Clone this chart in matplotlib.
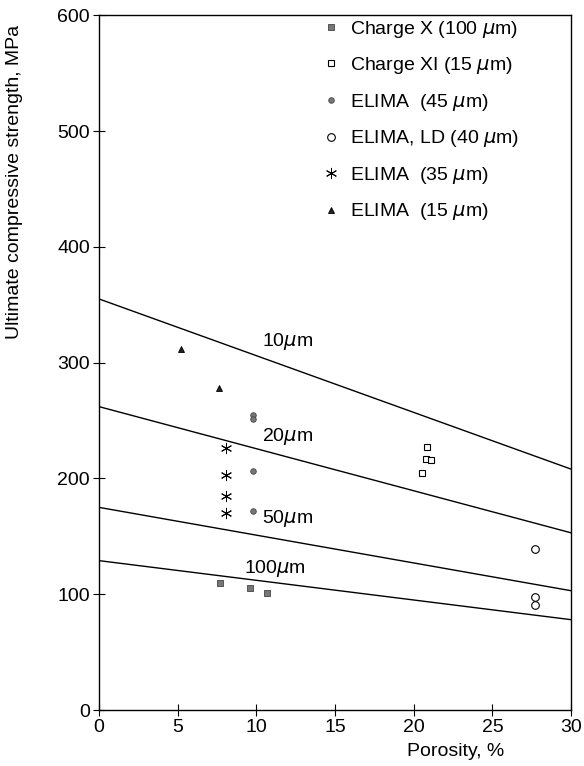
import matplotlib.pyplot as plt
import numpy as np

plt.rcParams["font.family"] = ["Liberation Sans", "DejaVu Sans"]
plt.rcParams["mathtext.fontset"] = "dejavusans"

# model lines (porosity 0 -> 30 %)
line_x = [0, 30]
line_10um = [355, 208]
line_20um = [262, 153]
line_50um = [175, 103]
line_100um = [129, 78]

# measured points
chx_x = [7.7, 9.6, 10.7]
chx_y = [110, 105, 101]
chxi_x = [20.5, 20.8, 20.85, 21.1]
chxi_y = [205, 217, 227, 216]
e45_x = [9.8, 9.8, 9.8, 9.8]
e45_y = [255, 251, 206, 172]
eld_x = [27.7, 27.7, 27.7]
eld_y = [139, 98, 90.5]
e35_x = [8.1, 8.1, 8.1, 8.1]
e35_y = [226, 203, 185, 170]
e15_x = [5.2, 7.6]
e15_y = [312, 278]

FS = 14

fig = plt.figure(figsize=(5.84, 7.66), dpi=100)
ax = fig.add_axes([0.1695, 0.0731, 0.8085, 0.907])

for ys in (line_10um, line_20um, line_50um, line_100um):
    ax.plot(line_x, ys, color="black", lw=1.0)

ax.plot(chx_x, chx_y, ls="none", marker="s", ms=4, mfc="#777777", mec="#444444", mew=0.6,
        label="Charge X (100 $\\mu$m)")
ax.plot(chxi_x, chxi_y, ls="none", marker="s", ms=5, mfc="white", mec="black", mew=0.8,
        label="Charge XI (15 $\\mu$m)")
ax.plot(e45_x, e45_y, ls="none", marker="o", ms=4, mfc="#777777", mec="#444444", mew=0.6,
        label="ELIMA  (45 $\\mu$m)")
ax.plot(eld_x, eld_y, ls="none", marker="o", ms=5.5, mfc="white", mec="black", mew=0.8,
        label="ELIMA, LD (40 $\\mu$m)")
ax.plot(e35_x, e35_y, ls="none", marker=(6, 2, 0), ms=8, mec="black", mew=0.7,
        label="ELIMA  (35 $\\mu$m)")
ax.plot(e15_x, e15_y, ls="none", marker="^", ms=5, mfc="#222222", mec="black", mew=0.6,
        label="ELIMA  (15 $\\mu$m)")

ax.text(11.95, 318, "10$\\mu$m", fontsize=FS, ha="center", va="center")
ax.text(11.95, 236, "20$\\mu$m", fontsize=FS, ha="center", va="center")
ax.text(11.95, 165, "50$\\mu$m", fontsize=FS, ha="center", va="center")
ax.text(11.2, 122, "100$\\mu$m", fontsize=FS, ha="center", va="center")

ax.set_xlim(0, 30)
ax.set_ylim(0, 600)
ax.set_xticks(np.arange(0, 31, 5))
ax.set_yticks(np.arange(0, 601, 100))
ax.tick_params(direction="inout", length=9, width=0.8, labelsize=FS, pad=2)
for s in ax.spines.values():
    s.set_linewidth(1.0)

ax.set_xlabel("Porosity, %", fontsize=FS)
ax.xaxis.set_label_coords(0.756, -0.047)
ax.set_ylabel("Ultimate compressive strength, MPa", fontsize=FS)
ax.yaxis.set_label_coords(-0.16, 0.76)

ax.legend(loc="upper left", bbox_to_anchor=(0.47, 0.995), frameon=False, fontsize=FS,
          handlelength=1.0, handletextpad=0.48, labelspacing=0.8, borderaxespad=0, borderpad=0)

fig.savefig("out.png", dpi=100)
